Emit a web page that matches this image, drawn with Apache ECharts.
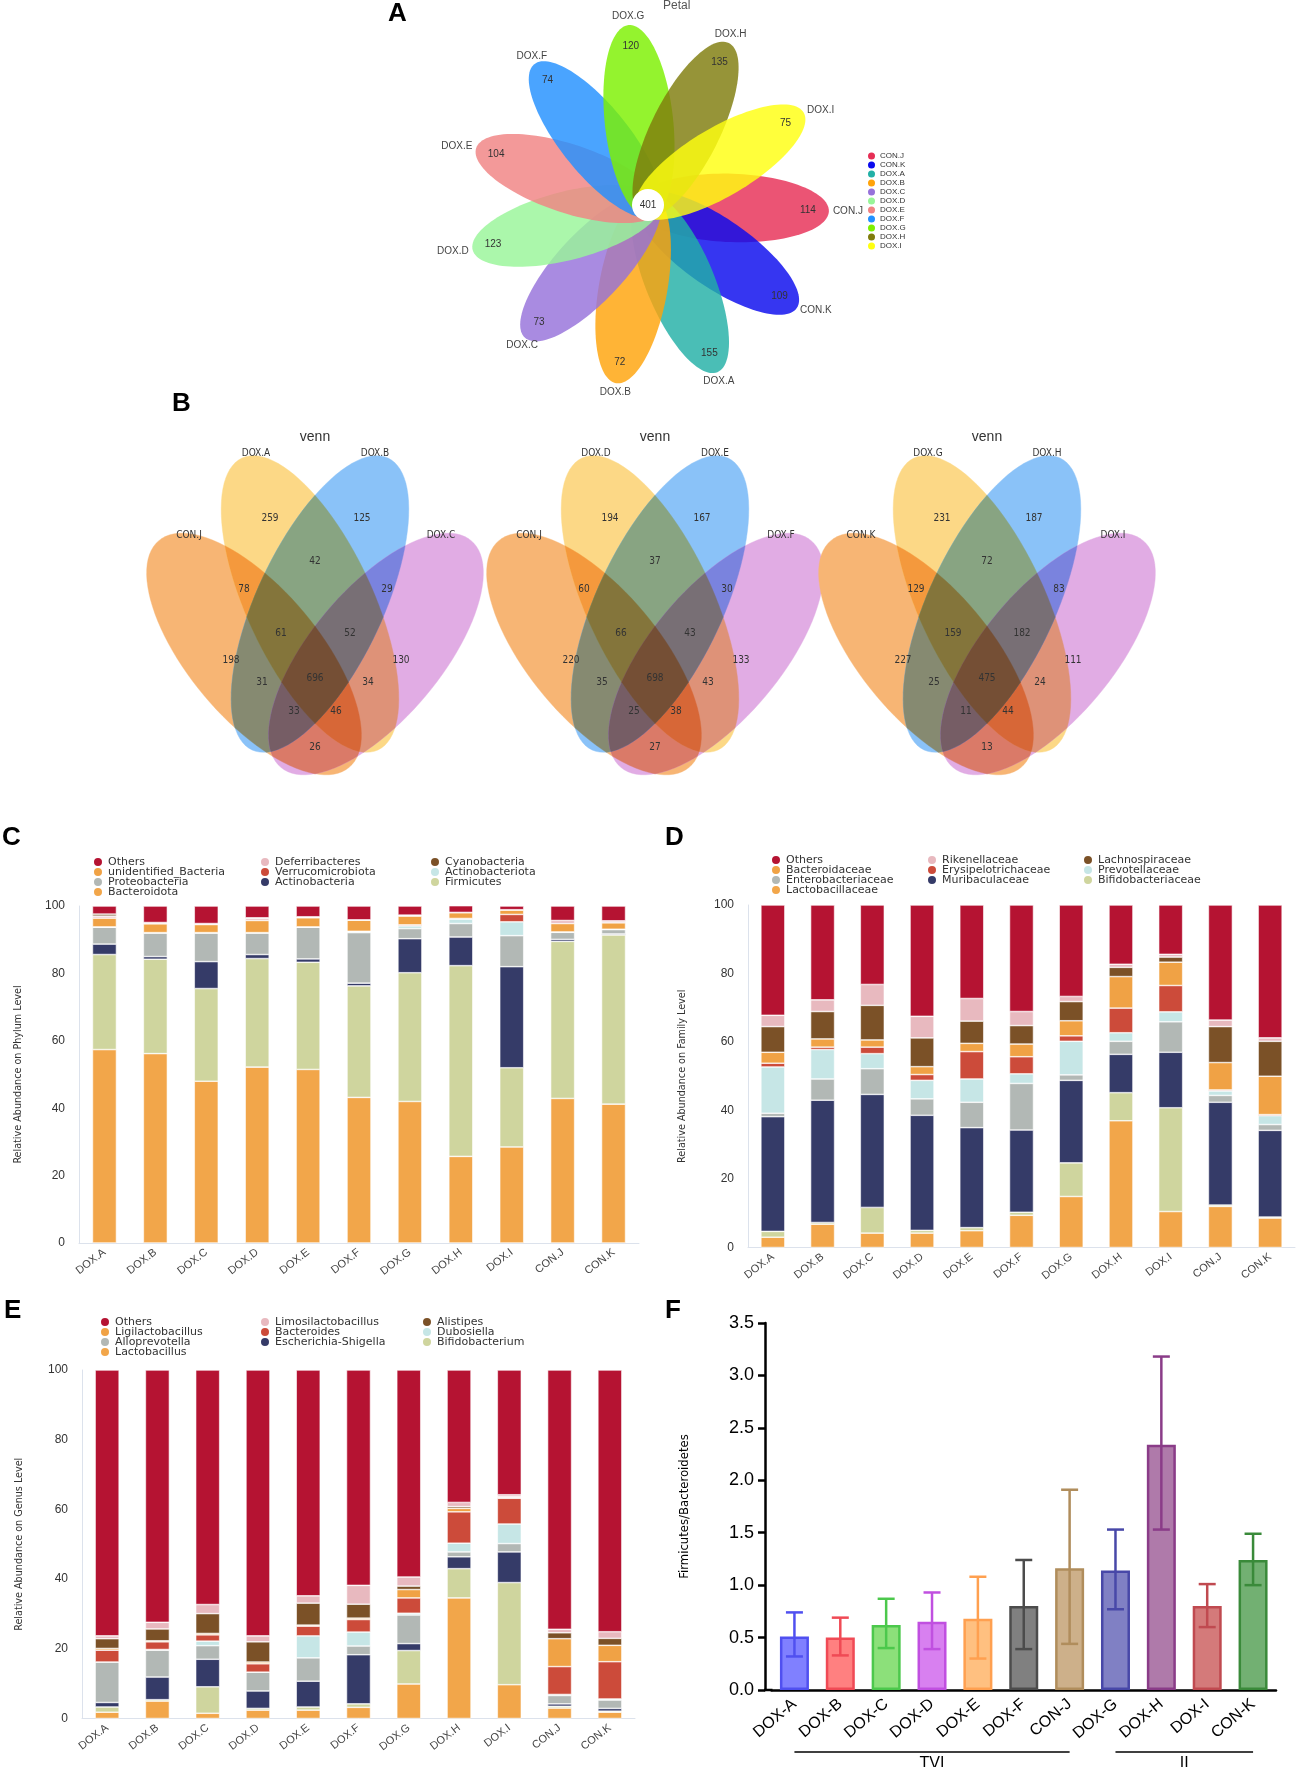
<!DOCTYPE html>
<html><head><meta charset="utf-8">
<script src="https://cdn.jsdelivr.net/npm/echarts@6/dist/echarts.min.js"></script>
<style>html,body{margin:0;padding:0;background:#fff}#c{width:1299px;height:1767px}</style>
</head><body><div id="c"></div>
<script>
// ================= DATA =================
// Panel A : petal diagram
const petalNames  = ['CON.J','CON.K','DOX.A','DOX.B','DOX.C','DOX.D','DOX.E','DOX.F','DOX.G','DOX.H','DOX.I'];
const petalUnique = [114,109,155,72,73,123,104,74,120,135,75];
const petalCore   = 401;

// Panel B : three 4-set venn diagrams (region order: A,B,AB,JA,BC,JAB,ABC,J,C,JB,all,AC,JBC,JAC,JC)
const venn1Sets   = ['CON.J','DOX.A','DOX.B','DOX.C'];
const venn1Counts = [259,125,42,78,29,61,52,198,130,31,696,34,33,46,26];
const venn2Sets   = ['CON.J','DOX.D','DOX.E','DOX.F'];
const venn2Counts = [194,167,37,60,30,66,43,220,133,35,698,43,25,38,27];
const venn3Sets   = ['CON.K','DOX.G','DOX.H','DOX.I'];
const venn3Counts = [231,187,72,129,83,159,182,227,111,25,475,24,11,44,13];

// Panels C-E : relative abundance (%)
const samples = ['DOX.A','DOX.B','DOX.C','DOX.D','DOX.E','DOX.F','DOX.G','DOX.H','DOX.I','CON.J','CON.K'];
// C phylum
const phyBacteroidota   = [57.4,56.2,48.0,52.2,51.5,43.2,42.0,25.7,28.5,42.9,41.2];
const phyFirmicutes     = [28.2,28.0,27.5,32.2,31.8,33.1,38.2,56.6,23.5,46.6,50.2];
const phyActinobacteria = [3.1,0.8,8.0,1.2,1.0,0.8,10.1,8.5,30.0,0.6,0.3];
const phyProteobacteria = [5.0,7.0,8.5,6.4,9.4,15.0,3.0,4.0,9.2,2.1,1.3];
const phyActinobacteriota = [0.0,0.0,0.0,0.0,0.0,0.3,0.8,1.3,4.1,0.1,0.1];
const phyVerrucomicrobiota = [0.1,0.1,0.1,0.1,0.1,0.1,0.3,0.2,2.2,0.0,0.0];
const phyUnidentified   = [2.6,2.6,2.4,3.6,2.7,3.3,2.6,1.7,1.3,2.5,1.9];
const phyDeferribacteres = [0.6,0.3,0.2,0.6,0.2,0.1,0.3,0.1,0.1,0.9,0.6];
const phyCyanobacteria  = [0.6,0.1,0.1,0.2,0.1,0.0,0.0,0.0,0.0,0.0,0.0];
const phyOthers         = [2.4,4.9,5.2,3.5,3.2,4.1,2.7,2.0,1.1,4.3,4.4];
// D family
const famLactobacillaceae   = [3.0,6.8,4.2,4.2,4.9,9.4,14.9,37.0,10.5,12.0,8.6];
const famBifidobacteriaceae = [1.7,0.5,7.5,0.8,0.9,0.9,9.8,8.2,30.3,0.4,0.3];
const famMuribaculaceae     = [33.5,35.7,33.0,33.6,29.2,24.0,24.1,11.2,16.2,30.0,25.3];
const famEnterobacteriaceae = [1.0,6.2,7.5,4.8,7.4,13.6,1.6,3.8,8.9,2.0,1.7];
const famPrevotellaceae     = [13.5,8.6,4.4,5.4,6.8,2.8,9.8,2.5,2.9,1.3,2.6];
const famErysipelotrichaceae = [1.1,0.7,1.9,1.7,8.0,5.0,1.6,7.2,7.7,0.3,0.3];
const famBacteroidaceae     = [3.2,2.4,2.1,2.3,2.4,3.7,4.4,9.2,6.8,8.0,11.2];
const famLachnospiraceae    = [7.5,8.0,10.1,8.4,6.5,5.4,5.6,2.7,1.5,10.5,10.2];
const famRikenellaceae      = [3.3,3.4,6.1,6.3,6.6,4.1,1.5,0.9,0.8,1.9,1.0];
const famOthers             = [32.2,27.7,23.2,32.5,27.3,31.1,26.7,17.3,14.4,33.6,38.8];
// E genus
const genLactobacillus      = [1.8,5.0,1.5,2.4,2.4,3.2,9.9,34.6,9.7,3.0,1.8];
const genBifidobacterium    = [1.5,0.4,7.6,0.5,0.9,1.0,9.6,8.4,29.3,0.5,0.3];
const genEscherichia        = [1.3,6.5,7.9,5.0,7.4,14.1,2.0,3.4,8.8,0.7,0.8];
const genAlloprevotella     = [11.6,7.7,3.9,5.4,6.7,2.5,8.2,1.4,2.4,2.4,2.4];
const genDubosiella         = [0.0,0.2,1.3,0.0,6.3,4.0,0.5,2.5,5.6,0.3,0.3];
const genBacteroides        = [3.4,2.2,1.8,2.4,2.8,3.6,4.4,9.0,7.4,8.0,10.7];
const genLigilactobacillus  = [0.5,0.3,0.4,0.5,0.3,0.4,2.4,1.0,0.2,8.0,4.7];
const genAlistipes          = [2.8,3.4,5.7,5.8,6.3,4.0,1.0,0.5,0.2,1.7,2.0];
const genLimosilactobacillus = [0.8,1.9,2.6,1.7,2.1,5.4,2.6,1.2,0.6,1.0,1.9];
const genOthers             = [76.3,72.4,67.3,76.3,64.8,61.8,59.4,38.0,35.8,74.4,75.1];

// Panel F : Firmicutes/Bacteroidetes ratio
const fbCategories = ['DOX-A','DOX-B','DOX-C','DOX-D','DOX-E','DOX-F','CON-J','DOX-G','DOX-H','DOX-I','CON-K'];
const fbMean  = [0.51,0.50,0.62,0.65,0.68,0.80,1.16,1.14,2.34,0.80,1.24];
const fbUpper = [0.74,0.69,0.87,0.93,1.08,1.24,1.91,1.53,3.18,1.01,1.49];
const fbLower = [0.32,0.33,0.40,0.39,0.30,0.39,0.44,0.77,1.53,0.60,1.00];
const fbGroupNames = ['TVI','II'];
const fbGroupFrom  = [0,7];
const fbGroupTo    = [6,10];

// ================= STYLE / LAYOUT =================
const FONT = "'Liberation Sans', Arial, Helvetica, sans-serif";
const WIDE = "'DejaVu Sans', 'Liberation Sans', sans-serif";
const NARROW = "'Liberation Sans Narrow', 'DejaVu Sans Condensed', 'Liberation Sans', sans-serif";
const petalColors = ['#E62E55','#0A0AEE','#22B0A6','#FFA30A','#9672DA','#98F598','#F08282','#2290FF','#7DF000','#7F7C0C','#FFFF10'];
const PETAL = {start:2, dist:84, a:97, b:34.2, numR:160, nameR:185};

const vennColors = [[247,181,116],[252,216,134],[138,194,248],[225,172,228]];
const vennEllipses = [
  {cx:-61, cy:40, a:148, b:65, ang:50},
  {cx:-5, cy:-10, a:161, b:63, ang:65},
  {cx:5, cy:-10, a:161, b:63, ang:115},
  {cx:61, cy:40, a:148, b:65, ang:130}
];
const vennRegionPos = [[-45,-96],[47,-96],[0,-53],[-71,-25],[72,-25],[-34,19],[35,19],[-84,46],[86,46],[-53,68],[0,64],[53,68],[-21,97],[21,97],[0,133]];
const vennSetPos = [[-126,-79],[-59,-161],[60,-161],[126,-79]];
const vennTitlePos = [0,-177];
const vennCenters = [315,655,987];
const VENN_CY = 614;

const cOthers='#B51332', cOrange='#F2A64A', cOrange2='#F0A245', cGrey='#B2B8B5', cPink='#E8B9BF',
      cRed='#CC4B3A', cNavy='#353B68', cBrown='#7B5127', cCyan='#C6E6E6', cGreen='#CFD59E';

const fbFill   = ['#8080FF','#FF8080','#8CE07A','#D880F0','#FFC080','#808080','#CDB08A','#8080C4','#AF7AAA','#D47A7A','#72B072'];
const fbStroke = ['#5050F0','#F04A55','#4CC84C','#C050E0','#FFA050','#4C4C4C','#B08D5C','#4848A8','#8A3C88','#C04A50','#3A8A3A'];
const F_AXIS_OFFSET = 6.5;

// ================= HELPERS =================
function ellipsePts(cx, cy, a, b, angDeg, toPx, n){
  n = n || 120;
  const r = angDeg*Math.PI/180, pts=[];
  for(let t=0;t<n;t++){
    const th=t/n*2*Math.PI, u=a*Math.cos(th), v=b*Math.sin(th);
    pts.push(toPx(cx+u*Math.cos(r)-v*Math.sin(r), cy+u*Math.sin(r)+v*Math.cos(r)));
  }
  return pts;
}
function segInt(P,Q,a,b){
  const x1=P[0],y1=P[1],x2=Q[0],y2=Q[1],x3=a[0],y3=a[1],x4=b[0],y4=b[1];
  const d=(x1-x2)*(y3-y4)-(y1-y2)*(x3-x4);
  const t=((x1-x3)*(y3-y4)-(y1-y3)*(x3-x4))/d;
  return [x1+t*(x2-x1), y1+t*(y2-y1)];
}
function clipConvex(subject, clip){
  const n=clip.length; let area=0;
  for(let i=0;i<n;i++){const p=clip[i],q=clip[(i+1)%n]; area+=p[0]*q[1]-q[0]*p[1];}
  const s=area>0?1:-1;
  const inside=(p,a,b)=> s*((b[0]-a[0])*(p[1]-a[1])-(b[1]-a[1])*(p[0]-a[0]))>=0;
  let out=subject;
  for(let i=0;i<n && out.length;i++){
    const a=clip[i], b=clip[(i+1)%n], inp=out; out=[];
    for(let j=0;j<inp.length;j++){
      const P=inp[j], Q=inp[(j+1)%inp.length];
      const pin=inside(P,a,b), qin=inside(Q,a,b);
      if(pin){ out.push(P); if(!qin) out.push(segInt(P,Q,a,b)); }
      else if(qin){ out.push(segInt(P,Q,a,b)); }
    }
  }
  return out;
}
function mulColor(mask){
  let c=[255,255,255];
  for(let k=0;k<4;k++) if(mask&(1<<k)) c=c.map((v,i)=>v*vennColors[k][i]/255);
  return 'rgb('+c.map(v=>Math.round(v)).join(',')+')';
}
const vennMasks = Array.from({length:15},(_,i)=>i+1).sort((a,b)=>{
  const pc=x=>x.toString(2).split('1').length-1; return pc(a)-pc(b);
});

// ================= SERIES =================
const series = [];
// ---- A: petals
petalNames.forEach((n,i)=>{
  series.push({
    type:'custom', name:n, coordinateSystem:'polar', polarIndex:0, z:3, silent:true,
    itemStyle:{color:petalColors[i]},
    data:[[PETAL.dist, PETAL.start + i*360/petalNames.length, petalUnique[i]]],
    renderItem:(p,api)=>{
      const c = api.coord([api.value(0), api.value(1)]);
      const pts = ellipsePts(0, 0, PETAL.a, PETAL.b, api.value(1), (x,y)=>[c[0]+x, c[1]+y]);
      return {type:'polygon', shape:{points:pts}, style:{fill:petalColors[i], opacity:0.82}};
    }
  });
});
series.push({
  type:'custom', name:'petalText', coordinateSystem:'polar', polarIndex:0, z:5, silent:true,
  data: petalUnique.map((v,i)=>[PETAL.numR, PETAL.start + i*360/petalNames.length, v]),
  renderItem:(p,api)=>{
    const th=api.value(1), rad=th*Math.PI/180;
    const pn = api.coord([api.value(0), th]);
    const pl = api.coord([PETAL.nameR, th]);
    const cs=Math.cos(rad), sn=Math.sin(rad);
    const align = cs>0.75?'left':(cs<-0.75?'right':'center');
    const valign = sn>0.6?'top':(sn<-0.6?'bottom':'middle');
    return {type:'group', children:[
      {type:'text', x:pn[0], y:pn[1], style:{text:String(api.value(2)), fill:'#333', fontSize:10, fontFamily:FONT, align:'center', verticalAlign:'middle'}},
      {type:'text', x:pl[0], y:pl[1], style:{text:petalNames[p.dataIndex], fill:'#444', fontSize:10, fontFamily:FONT, align:align, verticalAlign:valign}}
    ]};
  }
});
series.push({
  type:'custom', name:'petalCore', coordinateSystem:'polar', polarIndex:0, z:6, silent:true,
  data:[[0,0,petalCore]],
  renderItem:(p,api)=>{
    const c=api.coord([0,0]);
    return {type:'group', children:[
      {type:'circle', shape:{cx:c[0], cy:c[1], r:16}, style:{fill:'#fff'}},
      {type:'text', x:c[0], y:c[1], style:{text:String(api.value(2)), fill:'#333', fontSize:10, fontFamily:FONT, align:'center', verticalAlign:'middle'}}
    ]};
  }
});

// ---- B: venns (regions filled with multiplied colours)
[[venn1Sets,venn1Counts],[venn2Sets,venn2Counts],[venn3Sets,venn3Counts]].forEach((vd,g)=>{
  series.push({
    type:'custom', name:'vennShapes'+g, xAxisIndex:g, yAxisIndex:g, z:2, silent:true,
    data:[[0,0]],
    renderItem:(p,api)=>{
      const polys = vennEllipses.map(e=>ellipsePts(e.cx, e.cy, e.a, e.b, e.ang, (x,y)=>api.coord([x,y]), 100));
      const children = [];
      vennMasks.forEach(m=>{
        let poly=null;
        for(let k=0;k<4;k++) if(m&(1<<k)) poly = poly? clipConvex(poly, polys[k]) : polys[k];
        if(poly && poly.length>2) children.push({type:'polygon', shape:{points:poly}, style:{fill:mulColor(m), stroke:mulColor(m), lineWidth:0.4}});
      });
      return {type:'group', children:children};
    }
  });
  series.push({
    type:'custom', name:'vennCounts'+g, xAxisIndex:g, yAxisIndex:g, z:4, silent:true,
    data: vd[1].map((v,i)=>[vennRegionPos[i][0], vennRegionPos[i][1], v]),
    renderItem:(p,api)=>{
      const c=api.coord([api.value(0),api.value(1)]);
      return {type:'text', x:c[0], y:c[1], style:{text:String(api.value(2)), fill:'#333', fontSize:10, fontFamily:NARROW, align:'center', verticalAlign:'middle'}};
    }
  });
  series.push({
    type:'custom', name:'vennNames'+g, xAxisIndex:g, yAxisIndex:g, z:4, silent:true,
    data: vd[0].map((s,i)=>[vennSetPos[i][0], vennSetPos[i][1]]).concat([[vennTitlePos[0],vennTitlePos[1]]]),
    renderItem:(p,api)=>{
      const c=api.coord([api.value(0),api.value(1)]);
      const isTitle = p.dataIndex===4;
      return {type:'text', x:c[0], y:c[1], style:{text: isTitle?'venn':vd[0][p.dataIndex], fill:'#333', fontSize:isTitle?14:10, fontFamily:isTitle?FONT:NARROW, align:'center', verticalAlign:'middle'}};
    }
  });
});

// ---- C, D, E stacked bars
function addStack(gi, id, layers){
  layers.forEach(l=>{
    series.push({type:'bar', name:l[0], stack:id, xAxisIndex:gi, yAxisIndex:gi, data:l[1], barWidth:24,
      itemStyle:{color:l[2], borderColor:'#ffffff', borderWidth:0.6}, emphasis:{disabled:true}, silent:true});
  });
}
addStack(3,'phylum',[
  ['Bacteroidota',phyBacteroidota,cOrange],['Firmicutes',phyFirmicutes,cGreen],['Actinobacteria',phyActinobacteria,cNavy],
  ['Proteobacteria',phyProteobacteria,cGrey],['Actinobacteriota',phyActinobacteriota,cCyan],['Verrucomicrobiota',phyVerrucomicrobiota,cRed],
  ['unidentified_Bacteria',phyUnidentified,cOrange2],['Deferribacteres',phyDeferribacteres,cPink],['Cyanobacteria',phyCyanobacteria,cBrown],
  ['Others',phyOthers,cOthers]]);
addStack(4,'family',[
  ['Lactobacillaceae',famLactobacillaceae,cOrange],['Bifidobacteriaceae',famBifidobacteriaceae,cGreen],['Muribaculaceae',famMuribaculaceae,cNavy],
  ['Enterobacteriaceae',famEnterobacteriaceae,cGrey],['Prevotellaceae',famPrevotellaceae,cCyan],['Erysipelotrichaceae',famErysipelotrichaceae,cRed],
  ['Bacteroidaceae',famBacteroidaceae,cOrange2],['Lachnospiraceae',famLachnospiraceae,cBrown],['Rikenellaceae',famRikenellaceae,cPink],
  ['Others',famOthers,cOthers]]);
addStack(5,'genus',[
  ['Lactobacillus',genLactobacillus,cOrange],['Bifidobacterium',genBifidobacterium,cGreen],['Escherichia-Shigella',genEscherichia,cNavy],
  ['Alloprevotella',genAlloprevotella,cGrey],['Dubosiella',genDubosiella,cCyan],['Bacteroides',genBacteroides,cRed],
  ['Ligilactobacillus',genLigilactobacillus,cOrange2],['Alistipes',genAlistipes,cBrown],['Limosilactobacillus',genLimosilactobacillus,cPink],
  ['Others',genOthers,cOthers]]);

// ---- F
series.push({type:'bar', name:'F/B', xAxisIndex:6, yAxisIndex:6, barWidth:29, silent:true, z:2,
  data: fbMean.map((v,i)=>({value:v, itemStyle:{color:fbFill[i], borderColor:fbStroke[i], borderWidth:2.5}}))});
series.push({type:'custom', name:'F/B err', xAxisIndex:6, yAxisIndex:6, z:4, silent:true,
  encode:{x:0, y:[1,2]},
  data: fbMean.map((v,i)=>[i, fbLower[i], fbUpper[i]]),
  renderItem:(p,api)=>{
    const lo=api.coord([api.value(0),api.value(1)]), hi=api.coord([api.value(0),api.value(2)]);
    const w=8.5, st={stroke:fbStroke[p.dataIndex], lineWidth:2.5};
    return {type:'group', children:[
      {type:'line', shape:{x1:lo[0],y1:lo[1],x2:hi[0],y2:hi[1]}, style:st},
      {type:'line', shape:{x1:hi[0]-w,y1:hi[1],x2:hi[0]+w,y2:hi[1]}, style:st},
      {type:'line', shape:{x1:lo[0]-w,y1:lo[1],x2:lo[0]+w,y2:lo[1]}, style:st}
    ]};
  }
});
series.push({type:'custom', name:'F groups', xAxisIndex:6, yAxisIndex:6, z:4, silent:true, clip:false,
  data: fbGroupNames.map((n,i)=>[fbGroupFrom[i], fbGroupTo[i]]),
  renderItem:(p,api)=>{
    const a=api.coord([api.value(0),0]), b=api.coord([api.value(1),0]);
    const y=a[1]+62;
    const kids=[
      {type:'line', shape:{x1:a[0],y1:y,x2:b[0],y2:y}, style:{stroke:'#000', lineWidth:1.3}},
      {type:'text', x:(a[0]+b[0])/2, y:y+4, style:{text:fbGroupNames[p.dataIndex], fill:'#000', fontSize:16, fontFamily:FONT, align:'center', verticalAlign:'top'}}
    ];
    if(p.dataIndex===0){ // join the offset y-axis to the x-axis baseline
      const half = api.size([1,0])[0]/2;
      kids.push({type:'line', shape:{x1:a[0]-half-F_AXIS_OFFSET-1, y1:a[1], x2:a[0]-half+1, y2:a[1]}, style:{stroke:'#000', lineWidth:2.5}});
    }
    return {type:'group', children:kids};
  }
});

// ---- axes
const grids=[], xAxes=[], yAxes=[];
vennCenters.forEach(cx=>{
  grids.push({left:cx-200, top:VENN_CY-190, width:400, height:380});
  xAxes.push({type:'value', min:-200, max:200, show:false, gridIndex:grids.length-1});
  yAxes.push({type:'value', min:-190, max:190, inverse:true, show:false, gridIndex:grids.length-1});
});
function abundAxes(gi, grid, yname, gap){
  grids.push(grid);
  xAxes.push({type:'category', gridIndex:gi, data:samples, axisTick:{show:false},
    axisLine:{lineStyle:{color:'#DCE2EC', width:1}},
    axisLabel:{rotate:38, fontSize:11, color:'#444', fontFamily:FONT, interval:0, margin:8}});
  yAxes.push({type:'value', gridIndex:gi, min:0, max:100, interval:20, splitLine:{show:false},
    axisLine:{show:true, lineStyle:{color:'#DCE2EC', width:1}}, axisTick:{show:false},
    axisLabel:{fontSize:12, color:'#333', fontFamily:FONT, margin:14},
    name:yname, nameLocation:'middle', nameGap:gap, nameTextStyle:{fontSize:10.7, color:'#333', fontFamily:NARROW}});
}
abundAxes(3,{left:79, top:906, width:560, height:337},'Relative Abundance on Phylum Level',55);
abundAxes(4,{left:748, top:905, width:547, height:342.5},'Relative Abundance on Family Level',60);
abundAxes(5,{left:82, top:1370, width:553, height:348.5},'Relative Abundance on Genus Level',57.5);
grids.push({left:771.5, top:1323, width:504.5, height:367});
xAxes.push({type:'category', gridIndex:6, data:fbCategories,
  axisLine:{lineStyle:{color:'#000', width:2.5}},
  axisTick:{alignWithLabel:true, length:7, lineStyle:{color:'#000', width:2.5}},
  axisLabel:{rotate:40, fontSize:16, color:'#000', fontFamily:FONT, interval:0, margin:12}});
yAxes.push({type:'value', gridIndex:6, min:0, max:3.5, interval:0.5, offset:F_AXIS_OFFSET, splitLine:{show:false},
  axisLine:{show:true, lineStyle:{color:'#000', width:2.5}},
  axisTick:{show:true, length:7, lineStyle:{color:'#000', width:2.5}},
  axisLabel:{fontSize:18, color:'#000', fontFamily:FONT, margin:11, formatter:v=>v.toFixed(1)},
  name:'Firmicutes/Bacteroidetes', nameLocation:'middle', nameGap:74, nameTextStyle:{fontSize:13, color:'#000', fontFamily:NARROW}});

// ---- legends
function legCol(names,left,top){
  return {orient:'vertical', left:left, top:top, data:names, icon:'circle', itemWidth:10, itemHeight:10, itemGap:-2, padding:0,
    selectedMode:false, textStyle:{fontSize:11, color:'#333', fontFamily:WIDE, lineHeight:10}};
}
const legends = [
  {orient:'vertical', left:868, top:152, data:petalNames, icon:'circle', itemWidth:7, itemHeight:7, itemGap:1, padding:0,
   selectedMode:false, textStyle:{fontSize:8, color:'#333', fontFamily:FONT, lineHeight:7}},
  legCol(['Others','unidentified_Bacteria','Proteobacteria','Bacteroidota'],92,856),
  legCol(['Deferribacteres','Verrucomicrobiota','Actinobacteria'],259,856),
  legCol(['Cyanobacteria','Actinobacteriota','Firmicutes'],429,856),
  legCol(['Others','Bacteroidaceae','Enterobacteriaceae','Lactobacillaceae'],770,854),
  legCol(['Rikenellaceae','Erysipelotrichaceae','Muribaculaceae'],926,854),
  legCol(['Lachnospiraceae','Prevotellaceae','Bifidobacteriaceae'],1082,854),
  legCol(['Others','Ligilactobacillus','Alloprevotella','Lactobacillus'],99,1316),
  legCol(['Limosilactobacillus','Bacteroides','Escherichia-Shigella'],259,1316),
  legCol(['Alistipes','Dubosiella','Bifidobacterium'],421,1316)
];

function letter(t,l,tp){return {text:t, left:l, top:tp, padding:0, textStyle:{fontSize:26, fontWeight:'bold', color:'#000', fontFamily:FONT}};}
const option = {
  backgroundColor:'#ffffff',
  animation:false,
  title:[letter('A',388,1), {text:'Petal', left:663, top:0, padding:0, textStyle:{fontSize:12, fontWeight:'normal', color:'#555', fontFamily:FONT}},
         letter('B',172,391), letter('C',2,825), letter('D',665,825), letter('E',4,1298), letter('F',665,1298)],
  legend:legends,
  polar:[{center:[648,205], radius:200}],
  angleAxis:[{polarIndex:0, type:'value', min:0, max:360, startAngle:0, clockwise:true, show:false}],
  radiusAxis:[{polarIndex:0, type:'value', min:0, max:200, show:false}],
  grid:grids, xAxis:xAxes, yAxis:yAxes,
  series:series
};
const chart = echarts.init(document.getElementById('c'), null, {renderer:'canvas'});
chart.setOption(option);
</script></body></html>
